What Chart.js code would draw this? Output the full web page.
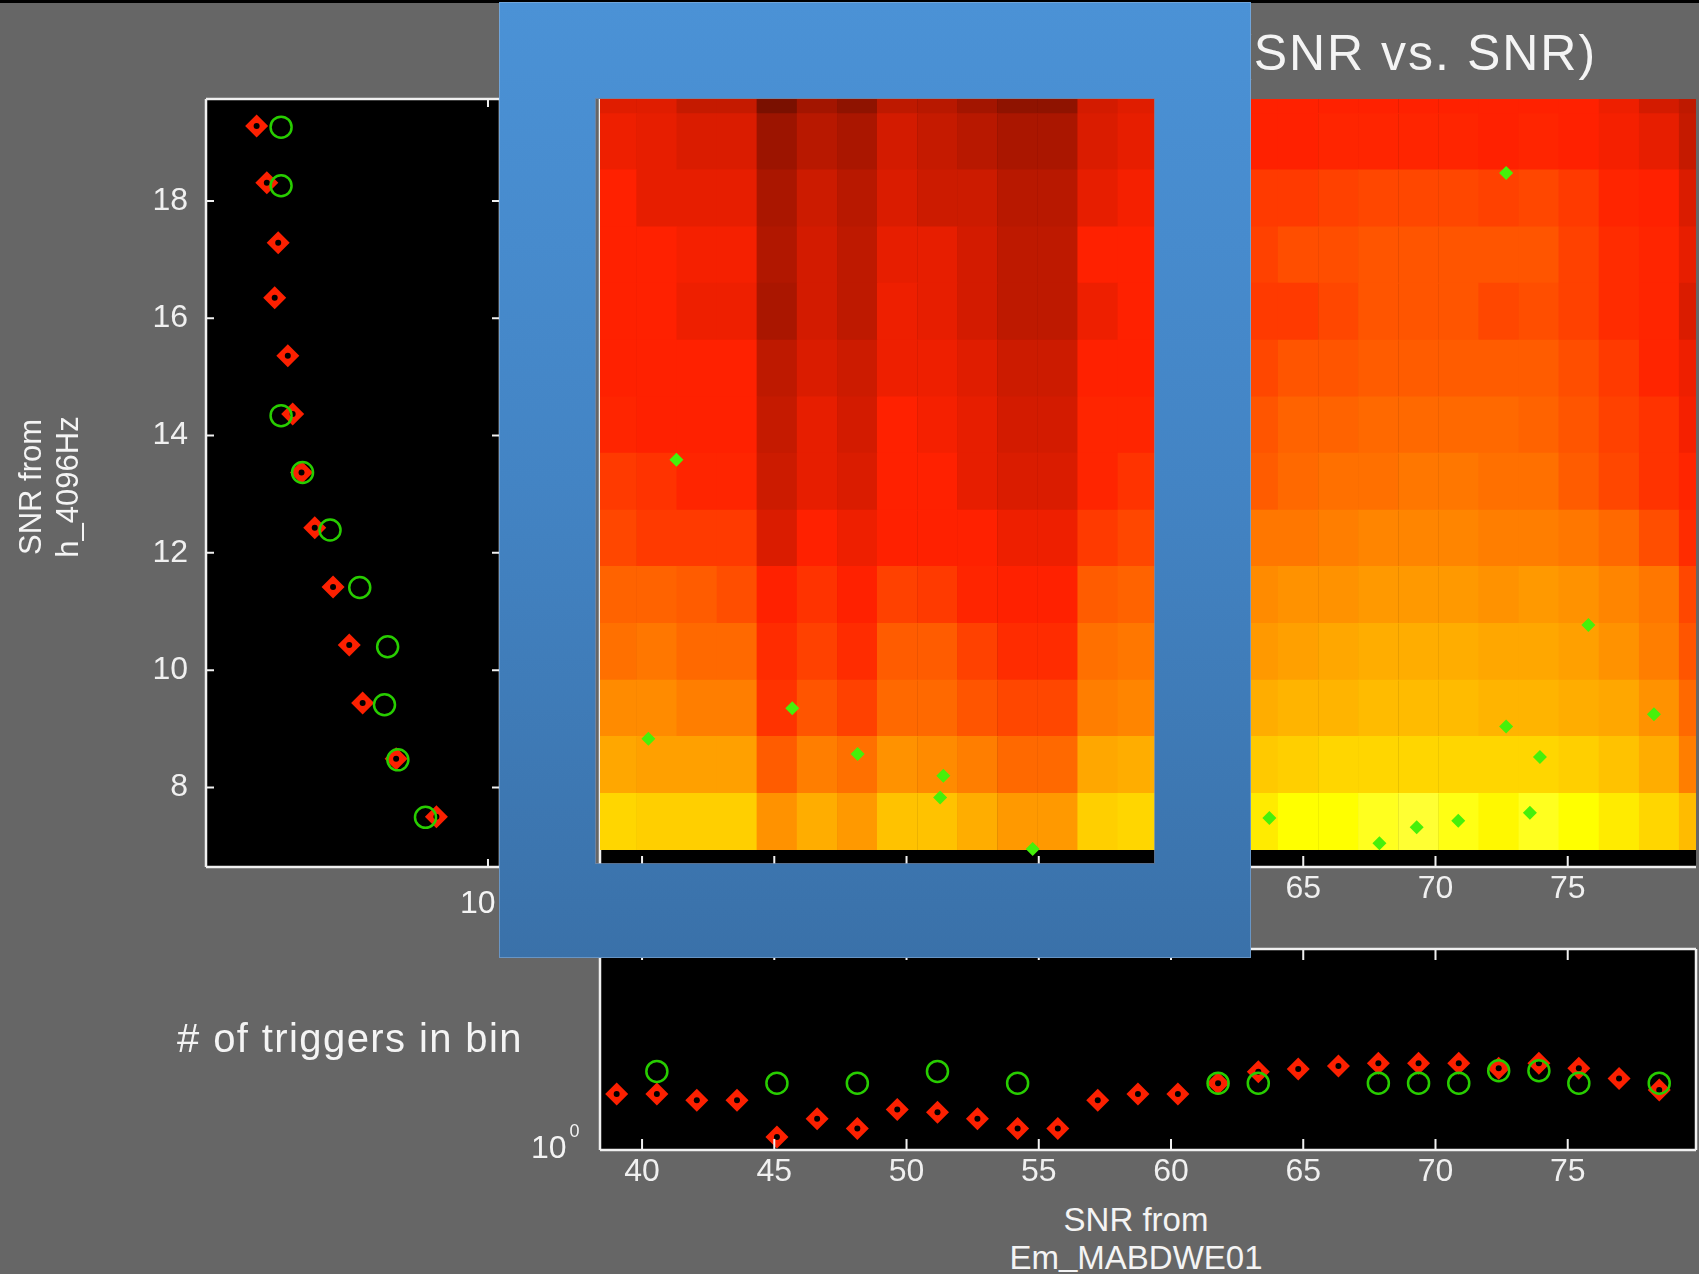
<!DOCTYPE html>
<html lang="en">
<head>
<meta charset="utf-8">
<title>SNR vs. SNR</title>
<script src="https://cdn.jsdelivr.net/npm/chart.js@4.4.1/dist/chart.umd.min.js"></script>
<style>
  html, body { margin: 0; padding: 0; }
  body {
    position: relative;
    width: 1699px;
    height: 1274px;
    overflow: hidden;
    background: #666666;
    font-family: "Liberation Sans", Arial, sans-serif;
    color: #f4f4f4;
  }
  canvas { position: absolute; }
  .txt { position: absolute; white-space: nowrap; line-height: 1; }
  .sup { font-size: 18px; position: relative; top: -21px; margin-left: 3px; }
  .lift { position: relative; top: -4px; }
  #topbar { position: absolute; left: 0; top: 0; width: 1699px; height: 3px; background: #000; }
  #ylab {
    left: -51.5px; top: 450px; width: 200px; height: 74px;
    font-size: 31px; line-height: 37px; text-align: center;
    transform: rotate(-90deg);
  }
  #frame {
    position: absolute; left: 499px; top: 2px; width: 752px; height: 956px;
    background: linear-gradient(180deg, #4b92d6 0%, #4384c4 50%, #3a71a9 100%);
    clip-path: path(evenodd, "M0 0 H752 V956 H0 Z M96 96 H656 V862 H96 Z");
    box-shadow: inset 0 0 0 1px rgba(150, 185, 225, 0.5);
  }
  #hole {
    position: absolute; left: 595px; top: 98px; width: 560px; height: 766px;
    box-sizing: border-box; border: 1px solid rgba(110, 140, 180, 0.8);
  }
</style>
</head>
<body>
<div id="topbar"></div>

<canvas id="leftHist" width="520" height="960" style="left:0;top:0"></canvas>
<canvas id="snrMap" width="1180" height="960" style="left:519px;top:0"></canvas>
<canvas id="bottomHist" width="1180" height="300" style="left:519px;top:900px"></canvas>

<div class="txt" style="left:1235px;top:28px;font-size:50px;letter-spacing:2px"><span style="letter-spacing:0;margin-right:2px">(</span>SNR vs. SNR)</div>
<div class="txt" id="ylab">SNR from<br>h_4096Hz</div>
<div class="txt" style="left:177px;top:1018px;font-size:40px;letter-spacing:1.4px"># of triggers in bin</div>
<div class="txt" style="left:936px;top:1201px;width:400px;text-align:center;font-size:33px;line-height:38px">SNR from<br>Em<span class="lift">_</span>MABDWE01</div>
<div class="txt" style="left:531px;top:1131px;font-size:32px">10<span class="sup">0</span></div>
<div class="txt" style="left:460px;top:886px;font-size:32px">10<span class="sup">0</span></div>

<div id="frame"></div>
<div id="hole"></div>

<script>
// ---- values ----

// bin centres along x (SNR from Em_MABDWE01)
const snrBinsX = [39.04, 40.56, 42.07, 43.59, 45.10, 46.62, 48.14, 49.65, 51.17, 52.68,
  54.20, 55.72, 57.23, 58.75, 60.26, 61.78, 63.30, 64.81, 66.33, 67.84,
  69.36, 70.88, 72.39, 73.91, 75.42, 76.94, 78.46, 79.97];

// bin edges along y (SNR from h_4096Hz)
const snrEdgesY = [6.94, 7.90, 8.87, 9.83, 10.80, 11.77, 12.73, 13.70, 14.66, 15.63,
  16.60, 17.56, 18.53, 19.49, 20.46];

// colour level of every map cell (0-100 on the hot scale), bottom row first
const heatLevels = [
  [69, 68, 68, 68, 59, 63, 60, 66, 66, 63, 60, 60, 68, 69, 70, 71, 72, 75, 75, 78, 80, 77, 74, 78, 75, 72, 69, 65],
  [62, 61, 61, 61, 51, 56, 54, 59, 58, 56, 53, 53, 62, 63, 64, 66, 67, 68, 69, 69, 69, 69, 69, 69, 68, 66, 63, 56],
  [58, 58, 56, 56, 45, 50, 47, 53, 53, 50, 48, 48, 56, 57, 59, 61, 63, 64, 64, 65, 65, 65, 64, 64, 63, 62, 59, 53],
  [54, 55, 53, 53, 44, 47, 44, 51, 51, 47, 44, 44, 54, 55, 56, 58, 60, 61, 62, 63, 63, 63, 62, 62, 61, 59, 56, 50],
  [52, 52, 51, 49, 40, 45, 40, 47, 46, 43, 40, 40, 51, 52, 53, 56, 58, 59, 59, 60, 60, 60, 59, 60, 59, 57, 55, 48],
  [48, 46, 46, 46, 32, 40, 35, 40, 40, 40, 35, 35, 46, 48, 50, 53, 55, 55, 56, 57, 57, 57, 56, 56, 55, 53, 49, 44],
  [46, 45, 43, 43, 30, 34, 32, 40, 40, 34, 32, 32, 43, 45, 47, 49, 51, 53, 54, 54, 55, 55, 54, 54, 51, 48, 45, 43],
  [43, 40, 40, 40, 29, 34, 31, 40, 36, 34, 31, 31, 43, 43, 45, 48, 50, 52, 52, 53, 53, 53, 53, 52, 50, 47, 45, 36],
  [40, 40, 40, 40, 28, 32, 30, 35, 35, 33, 30, 30, 40, 40, 42, 46, 48, 50, 50, 51, 51, 51, 51, 51, 49, 46, 43, 35],
  [40, 40, 35, 35, 25, 31, 28, 35, 34, 31, 28, 28, 35, 40, 41, 44, 46, 46, 48, 50, 50, 50, 48, 49, 47, 44, 43, 32],
  [40, 40, 36, 36, 26, 31, 28, 34, 34, 31, 28, 28, 40, 40, 42, 45, 47, 49, 49, 50, 50, 50, 50, 50, 47, 44, 43, 34],
  [40, 34, 34, 34, 25, 30, 27, 32, 30, 30, 27, 27, 34, 36, 40, 44, 46, 46, 47, 48, 48, 48, 47, 48, 46, 43, 40, 32],
  [35, 34, 32, 32, 23, 27, 25, 31, 29, 27, 25, 25, 32, 34, 36, 40, 42, 42, 43, 43, 43, 43, 42, 43, 42, 36, 34, 29],
  [33, 33, 29, 29, 18, 24, 21, 28, 27, 24, 21, 21, 31, 33, 34, 36, 38, 38, 38, 38, 38, 38, 38, 38, 38, 35, 31, 28]
];

// tick values
const snrTicksX = [40, 45, 50, 55, 60, 65, 70, 75];
const snrTicksY = [8, 10, 12, 14, 16, 18];
const countTicks = [1];

// triggers marked on the map
const mapTrigX = [41.30, 40.24, 45.68, 48.15, 51.39, 51.27, 54.77, 72.67, 75.78,
  72.67, 78.26, 73.95, 73.57, 63.72, 67.88, 69.29, 70.86];
const mapTrigY = [13.59, 8.83, 9.35, 8.57, 8.20, 7.83, 6.95, 18.48, 10.77,
  9.04, 9.25, 8.52, 7.57, 7.48, 7.05, 7.32, 7.43];

// left marginal: triggers per y bin
const leftBinsY = [7.50, 8.49, 9.44, 10.43, 11.42, 12.43, 13.37, 14.37, 15.36, 16.35, 17.29, 18.31, 19.28];
const leftRedCount = [0.745, 0.592, 0.489, 0.453, 0.413, 0.372, 0.345, 0.328, 0.319, 0.296, 0.302, 0.283, 0.267];
const leftGreenY = [7.49, 8.47, 9.41, 10.40, 11.41, 12.39, 13.37, 14.34, 18.26, 19.26];
const leftGreenCount = [0.700, 0.598, 0.554, 0.564, 0.481, 0.406, 0.347, 0.307, 0.307, 0.307];

// bottom marginal: triggers per x bin (red uses the first 27 bins)
const bottomRedCount = [1.90, 1.90, 1.77, 1.77, 1.16, 1.43, 1.28, 1.59, 1.54, 1.43,
  1.28, 1.28, 1.77, 1.90, 1.90, 2.15, 2.45, 2.53, 2.62, 2.70,
  2.70, 2.70, 2.55, 2.70, 2.55, 2.27, 1.99];
const bottomGreenX = [40.56, 45.10, 48.14, 51.17, 54.20, 61.78, 63.30, 67.84, 69.36, 70.88, 72.39, 73.91, 75.42, 78.46];
const bottomGreenCount = [2.46, 2.15, 2.15, 2.46, 2.15, 2.15, 2.15, 2.15, 2.15, 2.15, 2.48, 2.48, 2.15, 2.15];

// ---- styling ----
const RED = 'rgb(252, 32, 0)';
const RING = 'rgb(40, 205, 0)';
const MARK = 'rgb(70, 240, 10)';
const AXIS = '#f0f0f0';
const FONT = { family: '"Liberation Sans", Arial, sans-serif', size: 32, lineHeight: 1.2 };

Chart.defaults.font.family = FONT.family;
Chart.defaults.color = AXIS;

// MATLAB "hot" colormap, with a little green kept in the dark reds like the picture
function hotColor(level) {
  const t = level / 100;
  const r = Math.min(1, t / 0.375);
  const g = Math.max(0.13 * r, Math.min(1, Math.max(0, (t - 0.375) / 0.375)));
  const b = Math.min(1, Math.max(0, (t - 0.75) / 0.25));
  return `rgb(${Math.round(r * 255)}, ${Math.round(g * 255)}, ${Math.round(b * 255)})`;
}

const useTicks = (values) => (scale) => { scale.ticks = values.map((value) => ({ value })); };

// black axes box with white border and inward ticks
function drawFrame(chart, opts) {
  const { ctx, chartArea: a, scales } = chart;
  const len = opts.tickLength;
  const has = (side) => opts.sides.includes(side);
  ctx.save();
  ctx.strokeStyle = AXIS;
  ctx.lineWidth = 2.5;
  ctx.beginPath();
  if (has('top')) { ctx.moveTo(a.left, a.top); ctx.lineTo(a.right, a.top); }
  if (has('bottom')) { ctx.moveTo(a.left, a.bottom); ctx.lineTo(a.right, a.bottom); }
  if (has('left')) { ctx.moveTo(a.left, a.top); ctx.lineTo(a.left, a.bottom); }
  if (has('right')) { ctx.moveTo(a.right, a.top); ctx.lineTo(a.right, a.bottom); }
  ctx.stroke();

  ctx.lineWidth = 2;
  ctx.beginPath();
  scales.x.ticks.forEach((t) => {
    const px = scales.x.getPixelForValue(t.value);
    if (px < a.left + 2 || px > a.right - 2) return;
    if (has('bottom')) { ctx.moveTo(px, a.bottom); ctx.lineTo(px, a.bottom - len); }
    if (has('top')) { ctx.moveTo(px, a.top); ctx.lineTo(px, a.top + len); }
  });
  scales.y.ticks.forEach((t) => {
    const py = scales.y.getPixelForValue(t.value);
    if (py < a.top + 2 || py > a.bottom - 2) return;
    if (has('left')) { ctx.moveTo(a.left, py); ctx.lineTo(a.left + len, py); }
    if (has('right')) { ctx.moveTo(a.right, py); ctx.lineTo(a.right - len, py); }
  });
  ctx.stroke();
  ctx.restore();
}

const axesFrame = {
  id: 'axesFrame',
  beforeDraw(chart) {
    const { ctx, chartArea: a } = chart;
    ctx.save();
    ctx.fillStyle = '#000';
    ctx.fillRect(a.left, a.top, a.right - a.left, a.bottom - a.top);
    ctx.restore();
  },
  beforeDatasetsDraw(chart, args, opts) {
    if (opts.underData) drawFrame(chart, opts);
  },
  afterDatasetsDraw(chart, args, opts) {
    if (!opts.underData) drawFrame(chart, opts);
  }
};

const baseOptions = {
  responsive: false,
  animation: false,
  devicePixelRatio: 1,
  events: []
};

const hiddenAxisParts = { grid: { display: false, drawTicks: false }, border: { display: false } };

// marginal markers: green rings over red diamonds with a black centre
function marginalSets(redPoints, greenPoints) {
  return [
    { data: greenPoints, pointStyle: 'circle', pointRadius: 10.5, borderColor: RING,
      backgroundColor: 'rgba(0,0,0,0)', borderWidth: 2.5, order: 0, clip: false },
    { data: redPoints, pointStyle: 'circle', pointRadius: 3, backgroundColor: '#000',
      borderWidth: 0, order: 1, clip: false },
    { data: redPoints, pointStyle: 'rectRot', pointRadius: 11.5, backgroundColor: RED,
      borderWidth: 0, order: 2, clip: false }
  ];
}

// left marginal histogram
new Chart(document.getElementById('leftHist'), {
  type: 'scatter',
  data: {
    datasets: marginalSets(
      leftBinsY.map((y, i) => ({ x: leftRedCount[i], y })),
      leftGreenY.map((y, i) => ({ x: leftGreenCount[i], y }))
    )
  },
  options: {
    ...baseOptions,
    layout: { autoPadding: false, padding: { left: 0, top: 99, right: 20, bottom: 93 } },
    scales: {
      x: {
        type: 'logarithmic', min: 0.2, max: 1.071, ...hiddenAxisParts,
        ticks: { display: false },
        afterBuildTicks: useTicks(countTicks),
        afterFit: (s) => { s.height = 0; }
      },
      y: {
        type: 'linear', min: 6.643, max: 19.74, ...hiddenAxisParts,
        ticks: { font: FONT, color: AXIS, padding: 18 },
        afterBuildTicks: useTicks(snrTicksY),
        afterFit: (s) => { s.width = 206; }
      }
    },
    plugins: {
      legend: { display: false },
      tooltip: { enabled: false },
      axesFrame: { sides: ['top', 'right', 'bottom', 'left'], tickLength: 8, underData: false }
    }
  },
  plugins: [axesFrame]
});

// 2D histogram of SNR vs SNR, with the coincident triggers on top
const heatSets = heatLevels.map((levels, r) => ({
  type: 'bar',
  data: snrBinsX.map((x) => ({ x, y: [snrEdgesY[r], snrEdgesY[r + 1]] })),
  backgroundColor: levels.map(hotColor),
  borderWidth: 0,
  grouped: false,
  barPercentage: 1,
  categoryPercentage: 1,
  order: 1
}));

new Chart(document.getElementById('snrMap'), {
  type: 'bar',
  data: {
    datasets: [
      { type: 'scatter', data: mapTrigX.map((x, i) => ({ x, y: mapTrigY[i] })),
        pointStyle: 'rectRot', pointRadius: 7, backgroundColor: MARK, borderWidth: 0, order: 0 },
      ...heatSets
    ]
  },
  options: {
    ...baseOptions,
    layout: { autoPadding: false, padding: { left: 81, top: 99, right: 3, bottom: 0 } },
    scales: {
      x: {
        type: 'linear', min: 38.41, max: 79.85, offset: false, ...hiddenAxisParts,
        ticks: { font: FONT, color: AXIS, padding: 3, maxRotation: 0 },
        afterBuildTicks: useTicks(snrTicksX),
        afterFit: (s) => { s.height = 93; }
      },
      y: {
        type: 'linear', min: 6.643, max: 19.74, ...hiddenAxisParts,
        ticks: { display: false },
        afterBuildTicks: useTicks(snrTicksY),
        afterFit: (s) => { s.width = 0; }
      }
    },
    plugins: {
      legend: { display: false },
      tooltip: { enabled: false },
      axesFrame: { sides: ['bottom', 'left'], tickLength: 11, underData: true }
    }
  },
  plugins: [axesFrame]
});

// bottom marginal histogram
new Chart(document.getElementById('bottomHist'), {
  type: 'scatter',
  data: {
    datasets: marginalSets(
      bottomRedCount.map((y, i) => ({ x: snrBinsX[i], y })),
      bottomGreenX.map((x, i) => ({ x, y: bottomGreenCount[i] }))
    )
  },
  options: {
    ...baseOptions,
    layout: { autoPadding: false, padding: { left: 81, top: 49, right: 3, bottom: 0 } },
    scales: {
      x: {
        type: 'linear', min: 38.41, max: 79.85, ...hiddenAxisParts,
        ticks: { font: FONT, color: AXIS, padding: 3, maxRotation: 0 },
        afterBuildTicks: useTicks(snrTicksX),
        afterFit: (s) => { s.height = 50; }
      },
      y: {
        type: 'logarithmic', min: 1, max: 10, ...hiddenAxisParts,
        ticks: { display: false },
        afterBuildTicks: useTicks(countTicks),
        afterFit: (s) => { s.width = 0; }
      }
    },
    plugins: {
      legend: { display: false },
      tooltip: { enabled: false },
      axesFrame: { sides: ['top', 'right', 'bottom', 'left'], tickLength: 11, underData: false }
    }
  },
  plugins: [axesFrame]
});
</script>
</body>
</html>
